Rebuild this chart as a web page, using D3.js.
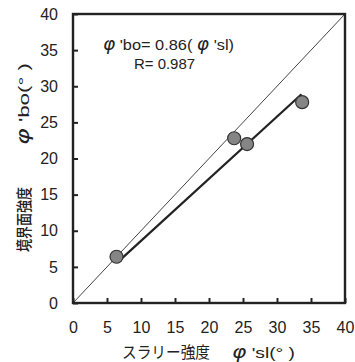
<!DOCTYPE html>
<meta charset="utf-8">
<script src="https://d3js.org/d3.v7.min.js"></script>
<style>
  body { margin: 0; background: #fff; }
  text { font-family: "Liberation Sans", Arial, "Noto Sans CJK JP", sans-serif; fill: #222; }
  .jp { font-family: "Noto Sans CJK JP", "Liberation Sans", sans-serif; }
  .phi { font-family: "DejaVu Sans", "Liberation Sans", sans-serif; font-style: italic; }
</style>
<div id="my_dataviz"></div>
<script>

// data
var slurry = [6.4, 23.7, 25.6, 33.7];     // φ'sl
var interf = [6.4, 22.8, 22.0, 27.8];     // φ'bo
var ticks = [0, 5, 10, 15, 20, 25, 30, 35, 40];
var slope = 0.86;
var fitRange = [6.5, 33.6];

var margin = {top: 14, left: 73},
    width = 345 - margin.left,
    height = 303 - margin.top;

var svg = d3.select("#my_dataviz")
  .append("svg")
    .attr("width", 355)
    .attr("height", 362);
var g = svg.append("g")
    .attr("transform", "translate(" + margin.left + "," + margin.top + ")");

var x = d3.scaleLinear().domain([0, 40]).range([0, width]);
var y = d3.scaleLinear().domain([0, 40]).range([height, 0]);

// 1:1 line
g.append("line")
  .attr("x1", x(0)).attr("y1", y(0))
  .attr("x2", x(40)).attr("y2", y(40))
  .attr("stroke", "#444").attr("stroke-width", 1);

// regression line
g.append("line")
  .attr("x1", x(fitRange[0])).attr("y1", y(slope * fitRange[0]))
  .attr("x2", x(fitRange[1])).attr("y2", y(slope * fitRange[1]))
  .attr("stroke", "#222").attr("stroke-width", 2.2);

// points
g.append("g")
  .selectAll("circle")
  .data(slurry)
  .enter()
  .append("circle")
    .attr("cx", function(d) { return x(d); })
    .attr("cy", function(d, i) { return y(interf[i]); })
    .attr("r", 6.5)
    .attr("fill", "#858585")
    .attr("stroke", "#333")
    .attr("stroke-width", 1.2);

// axes, ticks pointing inward
var xAxis = g.append("g")
  .attr("transform", "translate(0," + height + ")")
  .call(d3.axisBottom(x).tickValues(ticks).tickSizeInner(-5).tickSizeOuter(0).tickPadding(19));
var yAxis = g.append("g")
  .call(d3.axisLeft(y).tickValues(ticks).tickSizeInner(-5).tickSizeOuter(0).tickPadding(15));
[xAxis, yAxis].forEach(function(a) {
  a.selectAll("text").style("font-size", "16px").attr("fill", "#222");
  a.selectAll("line").attr("stroke", "#222").attr("stroke-width", 2);
  a.select(".domain").remove();
});

// frame
g.append("rect")
  .attr("width", width).attr("height", height)
  .attr("fill", "none").attr("stroke", "#222").attr("stroke-width", 2.4);

// equation
var eq = svg.append("text")
  .attr("x", 103).attr("y", 50)
  .attr("textLength", 131).attr("lengthAdjust", "spacingAndGlyphs")
  .style("font-size", "15px");
eq.append("tspan").attr("class", "phi").style("font-size", "17px").text("\u03c6");
eq.append("tspan").text(" 'bo= 0.86( ");
eq.append("tspan").attr("class", "phi").style("font-size", "17px").text("\u03c6");
eq.append("tspan").text(" 'sl)");

svg.append("text")
  .attr("x", 134).attr("y", 69)
  .attr("textLength", 61).attr("lengthAdjust", "spacingAndGlyphs")
  .style("font-size", "15px")
  .text("R= 0.987");

// x axis label
svg.append("text")
  .attr("class", "jp")
  .attr("x", 122).attr("y", 358)
  .attr("textLength", 88).attr("lengthAdjust", "spacingAndGlyphs")
  .style("font-size", "16px")
  .text("スラリー強度");
var xl = svg.append("text")
  .attr("x", 232).attr("y", 358)
  .attr("textLength", 63).attr("lengthAdjust", "spacingAndGlyphs")
  .style("font-size", "15px");
xl.append("tspan").attr("class", "phi").style("font-size", "17px").text("\u03c6");
xl.append("tspan").text(" 'sl(\u00b0  )");

// y axis label (rotated)
svg.append("text")
  .attr("class", "jp")
  .attr("transform", "rotate(-90)")
  .attr("x", -252).attr("y", 30)
  .attr("textLength", 65).attr("lengthAdjust", "spacingAndGlyphs")
  .style("font-size", "16px")
  .style("font-weight", "500")
  .attr("fill", "#333")
  .text("境界面強度");
var yl = svg.append("text")
  .attr("transform", "rotate(-90)")
  .attr("x", -145).attr("y", 29)
  .attr("textLength", 82).attr("lengthAdjust", "spacingAndGlyphs")
  .style("font-size", "15px")
  .attr("fill", "#333");
yl.append("tspan").attr("class", "phi").style("font-size", "17px").text("\u03c6");
yl.append("tspan").text(" 'bo(\u00b0  )");

</script>
